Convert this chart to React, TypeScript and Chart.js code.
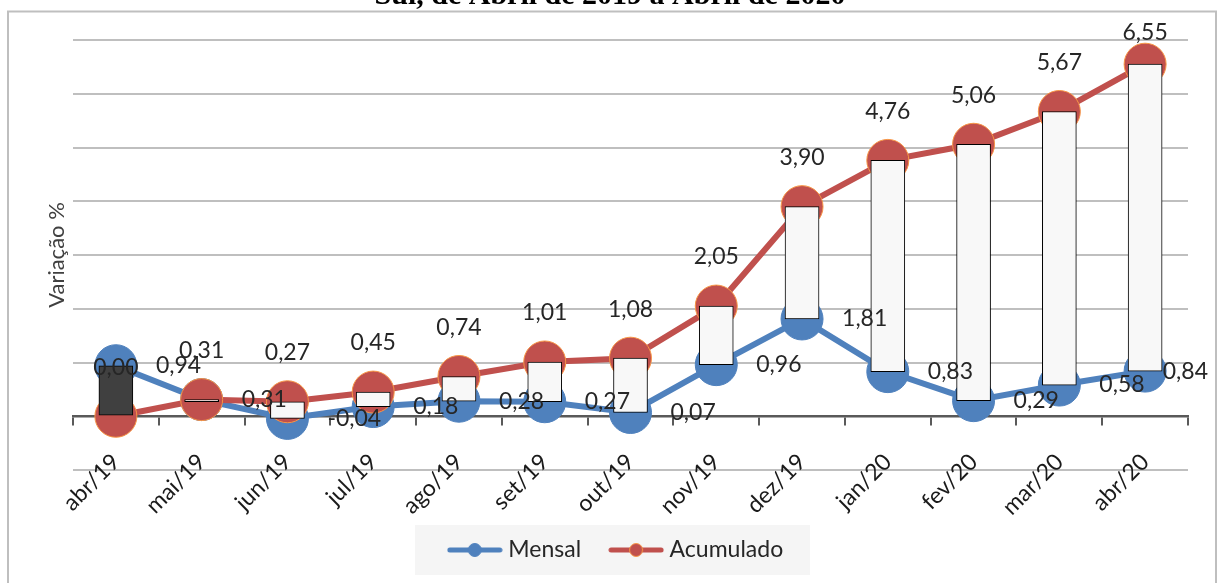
import { useEffect, useRef } from 'react';
import { Chart, registerables } from 'chart.js';

Chart.register(...registerables);

const CATEGORIES = ['abr/19', 'mai/19', 'jun/19', 'jul/19', 'ago/19', 'set/19', 'out/19', 'nov/19', 'dez/19', 'jan/20', 'fev/20', 'mar/20', 'abr/20'];
const MENSAL = [0.94, 0.31, -0.04, 0.18, 0.28, 0.27, 0.07, 0.96, 1.81, 0.83, 0.29, 0.58, 0.84];
const ACUMULADO = [0.0, 0.31, 0.27, 0.45, 0.74, 1.01, 1.08, 2.05, 3.9, 4.76, 5.06, 5.67, 6.55];
const SERIES_NAMES = ['Mensal', 'Acumulado'];
const Y_MIN = -1;
const Y_MAX = 7;
const Y_STEP = 1;
const TITLE_TEXT = 'Sul, de Abril de 2019 a Abril de 2020';
const Y_TITLE = 'Variação %';

const BLUE = '#4F81BD';
const RED = '#C0504D';
const RIM = '#F79646';
const FONT = 'Lato';
const LABEL_SIZE = 23;
const LEGEND_SIZE = 23;
const LEGEND_PAD = 33;
const LEGEND_TITLE_PAD = 23.5;

const fmt = (v: number) => v.toFixed(2).replace('.', ',');

function makeLegendIcon(color: string, rim: string) {
  const c = document.createElement('canvas');
  c.width = 56;
  c.height = 16;
  const g = c.getContext('2d')!;
  g.strokeStyle = color;
  g.lineWidth = 5;
  g.lineCap = 'round';
  g.beginPath();
  g.moveTo(3, 8);
  g.lineTo(53, 8);
  g.stroke();
  g.beginPath();
  g.arc(28, 8, 6.5, 0, Math.PI * 2);
  g.fillStyle = color;
  g.fill();
  g.lineWidth = 1;
  g.strokeStyle = rim;
  g.stroke();
  return c;
}

const decorPlugin = {
  id: 'decor',
  beforeDraw(chart: any) {
    const ctx = chart.ctx;
    ctx.save();
    // outer frame
    ctx.strokeStyle = '#bfbfbf';
    ctx.lineWidth = 2;
    ctx.strokeRect(8, 11.5, 1208, 600);
    // title (partially cut at top)
    ctx.fillStyle = '#000';
    ctx.font = 'bold 30px "Liberation Serif"';
    ctx.textAlign = 'center';
    ctx.textBaseline = 'alphabetic';
    ctx.fillText(TITLE_TEXT, 610, 3.5);
    // legend background
    const lg = chart.legend;
    if (lg) {
      const cx = (lg.left + lg.right) / 2;
      const titleH = 12 + LEGEND_TITLE_PAD;
      const cy = lg.top + titleH + LEGEND_PAD + LEGEND_SIZE / 2;
      ctx.fillStyle = '#f5f5f5';
      ctx.fillRect(cx - 203, cy - 25, 395, 50);
    }
    ctx.restore();
  },
};

const labelPlugin = {
  id: 'valueLabels',
  afterDatasetsDraw(chart: any) {
    const ctx = chart.ctx;
    ctx.save();
    ctx.font = `${LABEL_SIZE}px ${FONT}`;
    ctx.fillStyle = '#262626';
    ctx.textBaseline = 'middle';
    const mMeta = chart.getDatasetMeta(0);
    mMeta.data.forEach((el: any, i: number) => {
      const t = fmt(MENSAL[i]);
      const w = ctx.measureText(t).width;
      let x = el.x + 40;
      if (x + w > chart.width - 11) x = chart.width - 11 - w;
      ctx.textAlign = 'left';
      ctx.fillText(t, x, el.y);
    });
    const aMeta = chart.getDatasetMeta(1);
    aMeta.data.forEach((el: any, i: number) => {
      const t = fmt(ACUMULADO[i]);
      ctx.textAlign = 'center';
      ctx.fillText(t, el.x, Math.max(el.y - 49, 33));
    });
    ctx.restore();
  },
};

export default function App() {
  const ref = useRef<HTMLCanvasElement>(null);
  useEffect(() => {
    if (!ref.current) return;
    const icons = [makeLegendIcon(BLUE, BLUE), makeLegendIcon(RED, RIM)];
    const chart = new Chart(ref.current, {
      type: 'line',
      data: {
        labels: CATEGORIES,
        datasets: [
          {
            type: 'line',
            label: SERIES_NAMES[0],
            data: MENSAL,
            borderColor: BLUE,
            borderWidth: 6,
            backgroundColor: BLUE,
            pointRadius: 21,
            pointHoverRadius: 21,
            pointBackgroundColor: BLUE,
            pointBorderColor: BLUE,
            pointBorderWidth: 1,
            tension: 0,
            clip: false,
            order: 3,
          },
          {
            type: 'line',
            label: SERIES_NAMES[1],
            data: ACUMULADO,
            borderColor: RED,
            borderWidth: 6,
            backgroundColor: RED,
            pointRadius: 21,
            pointHoverRadius: 21,
            pointBackgroundColor: RED,
            pointBorderColor: RIM,
            pointBorderWidth: 1,
            tension: 0,
            clip: false,
            order: 2,
          },
          {
            type: 'bar',
            label: 'updown',
            data: MENSAL.map((m, i) => [m, ACUMULADO[i]]) as any,
            backgroundColor: MENSAL.map((m, i) => (m > ACUMULADO[i] ? '#404040' : '#f8f8f8')),
            borderColor: '#000',
            borderWidth: 1,
            borderSkipped: false,
            barThickness: 34,
            minBarLength: 2,
            order: 1,
          } as any,
        ],
      },
      options: {
        responsive: true,
        maintainAspectRatio: false,
        animation: false,
        layout: { padding: { left: 48, right: 31, top: 40, bottom: 11.5 } },
        scales: {
          x: {
            type: 'category',
            position: { y: 0 } as any,
            offset: true,
            grid: {
              display: true,
              drawOnChartArea: false,
              drawTicks: true,
              tickLength: 8,
              offset: true,
              color: '#595959',
              lineWidth: 2,
            },
            border: { display: true, color: '#595959', width: 2.5 },
            ticks: {
              autoSkip: false,
              minRotation: 45,
              maxRotation: 45,
              padding: 24,
              color: '#1a1a1a',
              font: { family: FONT, size: 23 },
            },
          },
          y: {
            min: Y_MIN,
            max: Y_MAX,
            ticks: { display: false, stepSize: Y_STEP },
            grid: { color: '#bfbfbf', lineWidth: 2, drawTicks: false },
            border: { display: false },
            title: {
              display: true,
              text: Y_TITLE,
              color: '#404040',
              font: { family: FONT, size: 22 },
              padding: { top: -4, bottom: 0 },
            },
            afterFit: (s: any) => {
              s.width = 25;
            },
          },
        },
        plugins: {
          tooltip: { enabled: false },
          legend: {
            display: true,
            position: 'bottom',
            title: { display: true, text: ' ', font: { size: 10 }, padding: { top: LEGEND_TITLE_PAD, bottom: 0 } },
            labels: {
              usePointStyle: true,
              pointStyleWidth: 44,
              padding: LEGEND_PAD,
              color: '#262626',
              font: { family: FONT, size: LEGEND_SIZE },
              generateLabels: (ch: any) => {
                const items = Chart.defaults.plugins.legend.labels.generateLabels(ch);
                return items
                  .filter((it: any) => it.datasetIndex < 2)
                  .sort((a: any, b: any) => a.datasetIndex - b.datasetIndex)
                  .map((it: any) => ({ ...it, pointStyle: icons[it.datasetIndex], lineWidth: 0 }));
              },
            },
          },
        },
      },
      plugins: [decorPlugin, labelPlugin],
    });
    return () => chart.destroy();
  }, []);
  return (
    <div style={{ position: 'absolute', left: 0, top: 0, width: 1219, height: 583 }}>
      <canvas ref={ref} />
    </div>
  );
}
